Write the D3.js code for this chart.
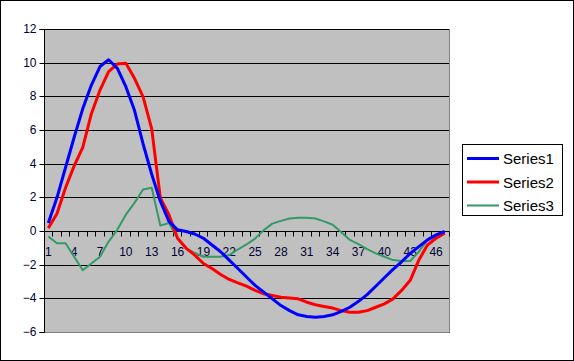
<!DOCTYPE html>
<html lang="en">
<head>
    <meta charset="UTF-8">
    <title>Series chart</title>
    <style>
        body { margin: 0; background: #fff; }
        text { font-family: 'Liberation Sans', Arial, sans-serif; }
        .tick_label { font-size: 12px; fill: #000033; }
        .legend_label { font-size: 15px; fill: #000; }
    </style>
    <script src="https://d3js.org/d3.v7.min.js"></script>
</head>
<body>
<script>

var window_width = 574;
var window_height = 361;

// data, 47 points per series
var categories = d3.range(1, 48);
var seriesNames = ["Series1", "Series2", "Series3"];
var series1 = [0.5, 2.0, 3.8, 5.6, 7.3, 8.7, 9.8, 10.2, 9.7, 8.6,
               7.2, 5.2, 3.4, 1.8, 0.6, 0.1, 0.0, -0.15, -0.4, -0.8,
               -1.2, -1.7, -2.2, -2.7, -3.2, -3.6, -4.0, -4.4, -4.7, -4.95,
               -5.05, -5.1, -5.05, -4.95, -4.75, -4.5, -4.15, -3.75, -3.25, -2.75,
               -2.25, -1.8, -1.3, -0.9, -0.5, -0.2, 0.0];
var series2 = [0.2, 1.05, 2.6, 3.9, 5.0, 7.0, 8.4, 9.5, 9.95, 10.0,
               9.1, 8.0, 6.1, 2.0, 1.0, -0.4, -1.0, -1.4, -1.9, -2.2,
               -2.55, -2.85, -3.05, -3.25, -3.5, -3.7, -3.8, -3.9, -3.95, -4.0,
               -4.2, -4.35, -4.45, -4.55, -4.7, -4.8, -4.8, -4.7, -4.5, -4.3,
               -4.0, -3.5, -2.9, -1.7, -0.8, -0.4, -0.1];
var series3 = [-0.3, -0.7, -0.7, -1.5, -2.3, -1.9, -1.5, -0.6, 0.1, 1.0,
               1.7, 2.5, 2.6, 0.35, 0.5, -0.4, -1.0, -1.27, -1.5, -1.5,
               -1.5, -1.4, -1.07, -0.77, -0.42, 0.08, 0.47, 0.63, 0.77, 0.82,
               0.82, 0.77, 0.6, 0.4, -0.05, -0.5, -0.75, -1.05, -1.3, -1.5,
               -1.7, -1.75, -1.75, -1.2, -0.5, -0.25, -0.05];
var yTicks = [-6, -4, -2, 0, 2, 4, 6, 8, 10, 12];
var xLabels = [1, 4, 7, 10, 13, 16, 19, 22, 25, 28, 31, 34, 37, 40, 43, 46];

var colors = ["#0000ff", "#ff0000", "#339966"];
var widths = [3, 3, 2];
var allSeries = [series1, series2, series3];

var plot = { left: 44, right: 449, top: 29.5, bottom: 332.5 };

var svg = d3.select("body").append("svg")
    .attr("width", window_width).attr("height", window_height);

// chart border
svg.append("rect").attr("x", 0.5).attr("y", 0.5)
    .attr("width", window_width - 1).attr("height", window_height - 1)
    .style("fill", "#fff").style("stroke", "#000");

var xScale = d3.scaleBand().domain(categories).range([plot.left, plot.right]);
var yScale = d3.scaleLinear().domain([-6, 12]).range([plot.bottom, plot.top]);

function cx(c) { return xScale(c) + xScale.bandwidth() / 2; }
function crisp(v) { return Math.round(v - 0.5) + 0.5; }

// plot area
svg.append("rect").attr("x", plot.left + 0.5).attr("y", plot.top)
    .attr("width", plot.right - plot.left).attr("height", plot.bottom - plot.top)
    .style("fill", "#c0c0c0").style("stroke", "#808080");

// gridlines
svg.selectAll(".grid").data(yTicks.filter(function(t){ return t != -6; })).enter().append("line")
    .attr("x1", plot.left).attr("x2", plot.right)
    .attr("y1", function(t){ return crisp(yScale(t)); })
    .attr("y2", function(t){ return crisp(yScale(t)); })
    .style("stroke", "#000").style("stroke-width", 1);

// y axis
var yAxis = d3.axisLeft(yScale).tickValues(yTicks).tickSize(5).tickPadding(3);
var gy = svg.append("g").attr("transform", "translate(" + (plot.left + 0.5) + ",0)").call(yAxis);
gy.select(".domain").attr("d", "M-5," + plot.top + "H0V" + plot.bottom + "H-5").style("stroke", "#000");
gy.selectAll(".tick line").style("stroke", "#000")
    .attr("transform", function(){ return ""; });
gy.selectAll(".tick").attr("transform", function(t){ return "translate(0," + crisp(yScale(t)) + ")"; });
gy.selectAll(".tick text").attr("class", "tick_label").attr("font-family", null).attr("font-size", null);

// x axis at zero, ticks between categories
var y0 = crisp(yScale(0));
svg.append("line").attr("x1", plot.left).attr("x2", plot.right)
    .attr("y1", y0).attr("y2", y0).style("stroke", "#000");
svg.selectAll(".xtick").data(categories.concat([48])).enter().append("line")
    .attr("x1", function(c){ return crisp(c <= 47 ? xScale(c) : plot.right); })
    .attr("x2", function(c){ return crisp(c <= 47 ? xScale(c) : plot.right); })
    .attr("y1", y0).attr("y2", y0 + 5)
    .style("stroke", "#000");
svg.selectAll(".xlabel").data(xLabels).enter().append("text")
    .attr("class", "tick_label")
    .attr("x", function(c){ return cx(c); })
    .attr("y", y0 + 24)
    .attr("text-anchor", "middle")
    .text(function(c){ return c; });

// series lines
var line = d3.line()
    .x(function(d, i){ return cx(categories[i]); })
    .y(function(d){ return yScale(d); });

[2, 1, 0].forEach(function(k) {
    svg.append("path").datum(allSeries[k])
        .attr("d", line)
        .style("fill", "none")
        .style("stroke", colors[k])
        .style("stroke-width", widths[k])
        .style("stroke-linejoin", "round");
});

// legend
var legend = svg.append("g");
legend.append("rect").attr("x", 462.5).attr("y", 144.5).attr("width", 100).attr("height", 71)
    .style("fill", "#fff").style("stroke", "#000");
var items = legend.selectAll(".item").data(seriesNames).enter().append("g")
    .attr("transform", function(d, i){ return "translate(0," + (158.5 + i * 23.5) + ")"; });
items.append("line").attr("x1", 467).attr("x2", 499).attr("y1", 0).attr("y2", 0)
    .style("stroke", function(d, i){ return colors[i]; })
    .style("stroke-width", function(d, i){ return widths[i]; });
items.append("text").attr("class", "legend_label")
    .attr("x", 503).attr("y", 5.5)
    .text(function(d){ return d; });

</script>
</body>
</html>
